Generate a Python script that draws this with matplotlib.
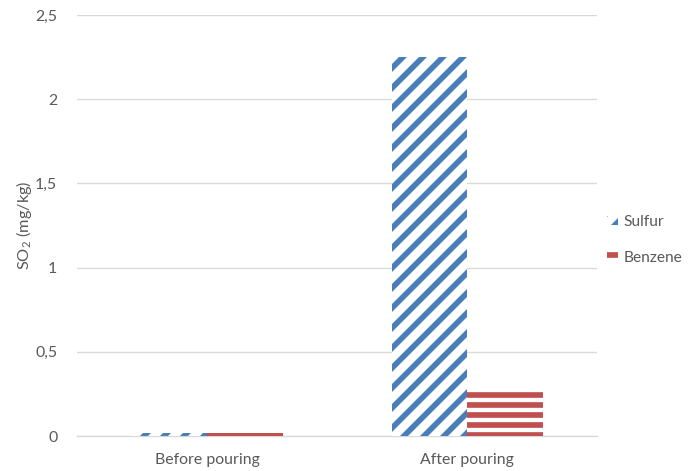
import numpy as np
import matplotlib
matplotlib.use("Agg")
import matplotlib.pyplot as plt

categories = ["Before pouring", "After pouring"]
sulfur = [0.02, 2.25]
benzene = [0.015, 0.27]
yticks = [0, 0.5, 1, 1.5, 2, 2.5]
ytick_labels = ["0", "0,5", "1", "1,5", "2", "2,5"]

plt.rcParams["font.family"] = ["Lato", "DejaVu Sans"]
plt.rcParams["mathtext.fontset"] = "custom"
plt.rcParams["mathtext.rm"] = "Lato"
plt.rcParams["mathtext.it"] = "Lato:italic"
plt.rcParams["hatch.linewidth"] = 3.4

grey = "#595959"
blue = "#4A7EBB"
red = "#C0504D"

fig = plt.figure(figsize=(5.8, 3.925), dpi=120)
ax = fig.add_axes([0.111, 0.0743, 0.747, 0.894])

x = np.arange(len(categories))
w = 0.29
ax.bar(x - w / 2, sulfur, w, facecolor="white", edgecolor=blue, hatch="//",
       linewidth=0, label="Sulfur", zorder=3)
ax.bar(x + w / 2, benzene, w, facecolor="white", edgecolor=red, hatch="--",
       linewidth=0, label="Benzene", zorder=3)

ax.set_xlim(-0.5, 1.5)
ax.set_ylim(0, 2.5)
ax.set_yticks(yticks)
ax.set_yticklabels(ytick_labels)
ax.set_xticks(x)
ax.set_xticklabels(categories)
ax.grid(axis="y", color="#D9D9D9", linewidth=0.8, zorder=0)
for s in ["top", "right", "left"]:
    ax.spines[s].set_visible(False)
ax.spines["bottom"].set_color("#D9D9D9")
ax.tick_params(axis="y", length=0, labelsize=9.5, colors=grey, pad=12)
ax.tick_params(axis="x", length=0, labelsize=9.5, colors=grey, pad=10)
ax.set_ylabel(r"SO$_2$ (mg/kg)", fontsize=9.8, color=grey, labelpad=0.5)

leg = ax.legend(loc="center left", bbox_to_anchor=(0.998, 0.465), frameon=False,
                fontsize=9.3, labelcolor=grey, handlelength=0.7, handleheight=0.5,
                handletextpad=0.35, labelspacing=1.4, borderaxespad=0.3)

fig.savefig("out.png", dpi=120)
